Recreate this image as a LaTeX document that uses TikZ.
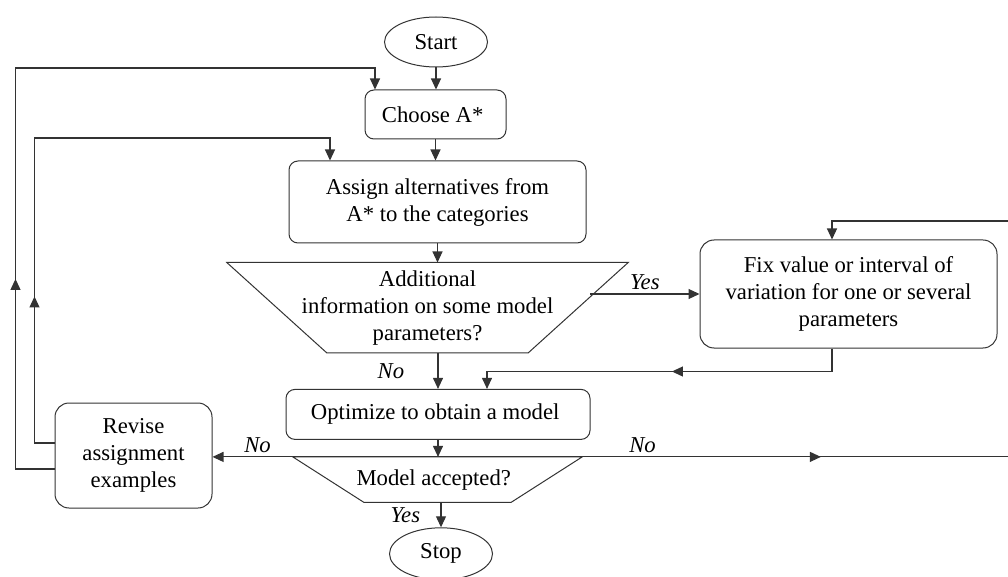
\documentclass[tikz,border=0pt]{standalone}
\usepackage{fontspec}
\setmainfont{Liberation Serif}
\usetikzlibrary{
  arrows.meta,
  positioning,
  shapes.geometric,
  decorations.markings
}
\definecolor{LineGray}{HTML}{333333}
\tikzset{
  terminal/.style={
    ellipse,
    draw=LineGray,
    line width=1pt,
    inner sep=0pt,
    minimum width=103pt,
    minimum height=50pt
  },
  process/.style={
    draw=LineGray,
    line width=1pt,
    rounded corners=9pt,
    align=center,
    inner sep=0pt
  },
  decision/.style={
    align=center,
    inner sep=0pt
  },
  outline/.style={
    draw=LineGray,
    line width=1pt
  },
  flow/.style={
    -{Triangle[length=11pt,width=10pt]},
    draw=LineGray,
    line width=1.1pt
  },
  midarrow/.style={
    postaction={decorate},
    decoration={
      markings,
      mark=at position #1 with {\arrow{Triangle[length=11pt,width=10pt]}}
    }
  },
  answer/.style={
    font=\fontsize{22.7pt}{27pt}\selectfont\itshape
  }
}

\begin{document}
\begin{tikzpicture}[
  x=1pt,
  y=1pt,
  every node/.append style={
    font=\fontsize{22.7pt}{27pt}\selectfont
  }
]

  \useasboundingbox (0,0) rectangle (1008,576);

  \node[
    terminal
  ] (start) at (436,534) {
    Start
  };

  \node[
    process,
    minimum width=141pt,
    minimum height=49pt,
    below=22pt of start,
    xshift=-0.5pt
  ] (choose) {
    Choose A*
  };

  \node[
    process,
    minimum width=297pt,
    minimum height=82pt,
    below=21pt of choose,
    xshift=2pt
  ] (assign) {
    Assign alternatives from\\
    A* to the categories
  };

  \node[
    decision,
    minimum width=401pt,
    minimum height=90pt,
    below=19pt of assign,
    xshift=-10pt
  ] (info) {
    Additional\\
    information on some model\\
    parameters?
  };

  \draw[outline]
  (info.north west) --
  (info.north east) --
  ([xshift=-100pt]info.south east) --
  ([xshift=100pt]info.south west) --
  cycle;

  \node[
    process,
    minimum width=304pt,
    minimum height=50pt,
    below=36pt of info,
    xshift=10.5pt
  ] (optimize) {
    Optimize to obtain a model
  };

  \node[
    decision,
    minimum width=289pt,
    minimum height=45pt,
    below=17pt of optimize,
    xshift=-0.5pt
  ] (accept) {
    Model accepted?
  };

  \draw[outline]
  (accept.north west) --
  (accept.north east) --
  ([xshift=-71pt]accept.south east) --
  ([xshift=71pt]accept.south west) --
  cycle;

  \node[
    terminal,
    minimum height=52pt,
    below=25pt of accept,
    xshift=3.5pt
  ] (stop) {
    Stop
  };

  \node[
    process,
    rounded corners=14pt,
    minimum width=297pt,
    minimum height=108pt
  ] (fix) at (848.5,282) {
    Fix value or interval of\\
    variation for one or several\\
    parameters
  };

  \node[
    process,
    rounded corners=14pt,
    minimum width=157pt,
    minimum height=105pt
  ] (revise) at (133.5,120.5) {
    Revise\\
    assignment\\
    examples
  };

  \coordinate (corner) at (1012,355);

  \draw[flow]
  (start.south) --
  (start.south |- choose.north);

  \draw[flow]
  (choose.south) --
  (choose.south |- assign.north);

  \draw[flow]
  (assign.south) --
  (assign.south |- info.north);

  \draw[flow]
  ([xshift=-38pt]info.east |- fix.west) --
  node[
    answer,
    above
  ] {
    Yes
  }
  (fix.west);

  \draw[flow]
  (optimize.north |- info.south) --
  node[
    answer,
    left=30pt
  ] {
    No
  }
  (optimize.north);

  \draw[flow, midarrow=0.475]
  ([xshift=-16.5pt]fix.south) --
  ++(0,-23) -|
  ([xshift=49pt]optimize.north);

  \draw[flow]
  (optimize.south) --
  (optimize.south |- accept.north);

  \draw[flow]
  (stop.north |- accept.south) --
  node[
    answer,
    left=17pt
  ] {
    Yes
  }
  (stop.north);

  \draw[flow]
  (accept.north) --
  node[
    answer,
    pos=0.8,
    above
  ] {
    No
  }
  (revise.east |- accept.north);

  \draw[flow, midarrow=0.38]
  (accept.north) --
  node[
    answer,
    pos=0.357,
    above
  ] {
    No
  }
  (accept.north -| corner) --
  (corner) -|
  ([xshift=-16.5pt]fix.north);

  \draw[flow, midarrow=0.279]
  ([yshift=-13.5pt]revise.west) --
  ++(-39,0) --
  ++(0,401) -|
  ([xshift=-60.5pt]choose.north);

  \draw[flow, midarrow=0.259]
  ([yshift=12.5pt]revise.west) --
  ++(-20,0) --
  ++(0,305) -|
  ([xshift=-107.5pt]assign.north);

\end{tikzpicture}
\end{document}
